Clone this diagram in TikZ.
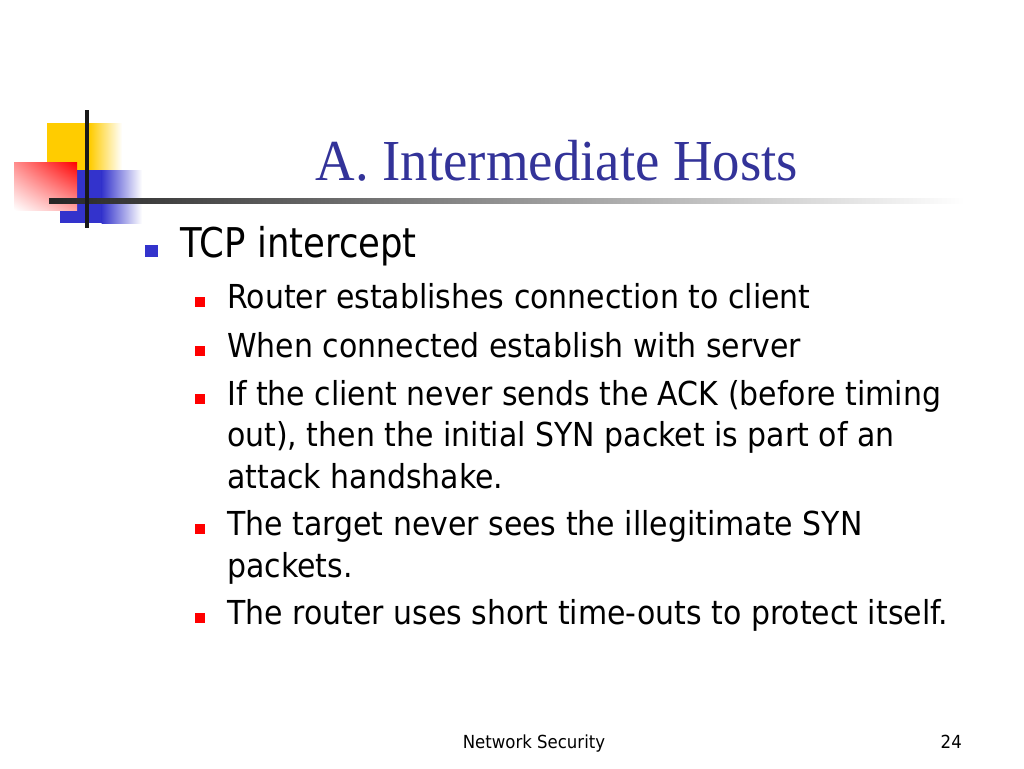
\documentclass[tikz,border=0pt]{standalone}
\usepackage{fontspec}
\usetikzlibrary{shadings}
\setmainfont{Liberation Serif}
\newfontfamily\ttlfont[FakeStretch=0.945]{Liberation Serif}
\newfontfamily\tahA[FakeStretch=0.865]{DejaVu Sans}
\newfontfamily\tahB[FakeStretch=0.908]{DejaVu Sans}
\newfontfamily\tahC[FakeStretch=0.92]{DejaVu Sans}
\definecolor{ttlblue}{RGB}{51,51,153}
\definecolor{bulblue}{RGB}{51,51,204}
\definecolor{bulred}{RGB}{255,0,0}
\definecolor{logoyel}{RGB}{255,204,0}
\definecolor{logoblue}{RGB}{51,51,204}
\tikzset{
  txt/.style={inner sep=0pt, anchor=base west, text=black},
  lvlone/.style={txt, font=\tahA\fontsize{41}{41}\selectfont},
  lvltwo/.style={txt, font=\tahB\fontsize{33}{33}\selectfont},
  foot/.style={inner sep=0pt, anchor=base, font=\tahC\fontsize{18}{18}\selectfont},
  bulone/.style={rectangle, fill=bulblue, inner sep=0pt, minimum width=13pt, minimum height=12pt, anchor=south west},
  bultwo/.style={rectangle, fill=bulred, inner sep=0pt, minimum size=10pt, anchor=south west},
}
\begin{document}
\begin{tikzpicture}[x=1pt,y=-1pt]
\useasboundingbox (0,0) rectangle (1024,768);
\fill[white] (0,0) rectangle (1024,768);
% logo
\fill[logoyel] (47,123) rectangle (90,170);
\shade[left color=logoyel, right color=white] (89.5,123) rectangle (122,170);
\fill[logoblue] (77,170) rectangle (102,223);
\fill[logoblue] (60,210) rectangle (78,223);
\shade[left color=logoblue, right color=white] (101.5,170) rectangle (142,223);
\shade[upper right=bulred, upper left=red!45, lower right=red!35, lower left=white] (14,162) rectangle (77,210);
\shade[left color=black!85, right color=white] (49,198.5) rectangle (965,203.5);
\fill[black!90] (85,110) rectangle (89,228);
% title
\node[inner sep=0pt, anchor=base, text=ttlblue, font=\ttlfont\fontsize{58}{58}\selectfont] (title) at (557,180) {A. Intermediate Hosts};
% bullets
\node[bulone] (b0) at (145,257) {};
\node[lvlone] (t0) at (180,257) {TCP intercept};
\node[bultwo] (b1) at (195,307) {};
\node[lvltwo] (t1) at (227,308) {Router establishes connection to client};
\node[bultwo] (b2) at (195,356) {};
\node[lvltwo] (t2) at (227,357) {When connected establish with server};
\node[bultwo] (b3) at (195,404) {};
\node[lvltwo] (t3a) at (227,405) {If the client never sends the ACK (before timing};
\node[lvltwo] (t3b) at (227,446.5) {out), then the initial SYN packet is part of an};
\node[lvltwo] (t3c) at (227,488) {attack handshake.};
\node[bultwo] (b4) at (195,534) {};
\node[lvltwo] (t4a) at (227,535) {The target never sees the illegitimate SYN};
\node[lvltwo] (t4b) at (227,577) {packets.};
\node[bultwo] (b5) at (195,623) {};
\node[lvltwo] (t5) at (227,624) {The router uses short time-outs to protect itself.};
% footer
\node[foot] (ft) at (534,748) {Network Security};
\node[foot, anchor=base east] (pg) at (962,748) {24};
\end{tikzpicture}
\end{document}
